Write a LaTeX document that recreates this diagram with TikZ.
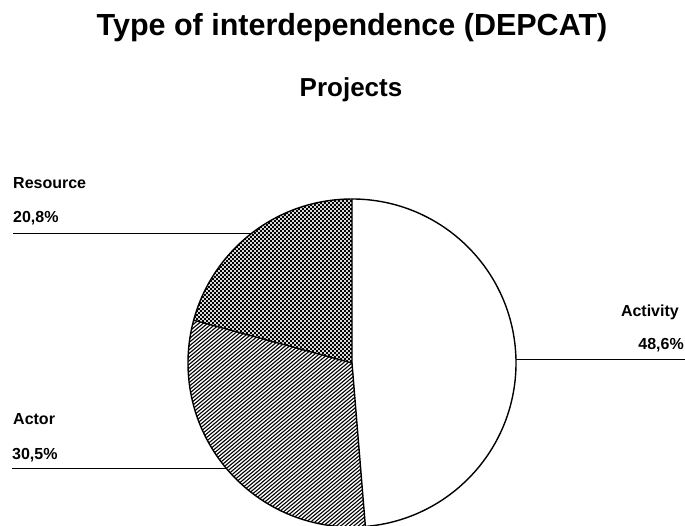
\documentclass[tikz,border=0pt]{standalone}
\usepackage{fontspec}
\setmainfont{Liberation Sans}
\usetikzlibrary{calc}

\tikzset{
  charttitle/.style={inner sep=0pt, font=\bfseries\fontsize{30.5}{36}\selectfont},
  chartsub/.style={inner sep=0pt, font=\bfseries\fontsize{26}{31}\selectfont},
  slicelabel/.style={inner sep=0pt, font=\bfseries\fontsize{16}{19}\selectfont},
  outline/.style={draw=black, line width=1.4pt, line join=round},
  leader/.style={draw=black, line width=0.9pt},
  hatch/.style={line width=1.1pt},
  checker/.style={line width=2pt, dash pattern=on 2pt off 2pt}
}

\begin{document}
\begin{tikzpicture}[x=1pt, y=1pt]
  \useasboundingbox[fill=white] (0,0) rectangle (685,526);

  % pie geometry
  \def\R{164pt}
  \coordinate (C) at (352,163);

  % titles
  \node[charttitle, anchor=base] (title) at (352,490) {Type of interdependence (DEPCAT)};
  \node[chartsub, anchor=base] (sub) at (351,429) {Projects};

  % Activity slice (48,6 %): plain white
  \fill[white] (C) -- ++(-85.32:\R) arc[start angle=-85.32, end angle=90, radius=\R] -- cycle;

  % Resource slice (20,8 %): fine checkerboard on a light grey ground
  \begin{scope}
    \clip (C) -- ++(90:\R) arc[start angle=90, end angle=164.88, radius=\R] -- cycle;
    \fill[gray!30] (180,160) rectangle (360,330);
    \foreach \j in {0,...,84} {
      \pgfmathsetmacro{\ph}{mod(\j,2)*2}
      \draw[checker, dash phase=\ph pt] (180,162+2*\j+1) -- (360,162+2*\j+1);
    }
  \end{scope}

  % Actor slice (30,5 %): diagonal hatching
  \begin{scope}
    \clip (C) -- ++(164.88:\R) arc[start angle=164.88, end angle=274.68, radius=\R] -- cycle;
    \begin{scope}[shift={(C)}, rotate=40]
      \foreach \k in {-62,...,62} {
        \draw[hatch] (-175,2.8*\k) -- (175,2.8*\k);
      }
    \end{scope}
  \end{scope}

  % slice borders
  \draw[outline] (C) circle[radius=\R];
  \draw[outline] ($(C)+(90:\R)$) -- (C) -- ($(C)+(164.88:\R)$);
  \draw[outline] (C) -- ($(C)+(274.68:\R)$);

  % labels
  \node[slicelabel, anchor=base west] (resname) at (13,337) {Resource};
  \node[slicelabel, anchor=base west] (resval) at (13,303) {20,8\%};
  \node[slicelabel, anchor=base west] (actname) at (13,101.7) {Actor};
  \node[slicelabel, anchor=base west] (actval) at (12,66.7) {30,5\%};
  \node[slicelabel, anchor=base east] (actvname) at (679,209.3) {Activity};
  \node[slicelabel, anchor=base east] (actvval) at (684,176) {48,6\%};

  % leader lines
  \coordinate (resL) at (13,292.7);
  \coordinate (resP) at ($(C)+(127.7:\R)$);
  \coordinate (actL) at (12,57.7);
  \coordinate (actP) at ($(C)+(219.9:\R)$);
  \coordinate (actvP) at ($(C)+(1.3:\R)$);
  \coordinate (actvR) at (685,166.7);
  \draw[leader] (resL) -- (resL -| resP);
  \draw[leader] (actL) -- (actL -| actP);
  \draw[leader] (actvP |- actvR) -- (actvR);
\end{tikzpicture}
\end{document}
